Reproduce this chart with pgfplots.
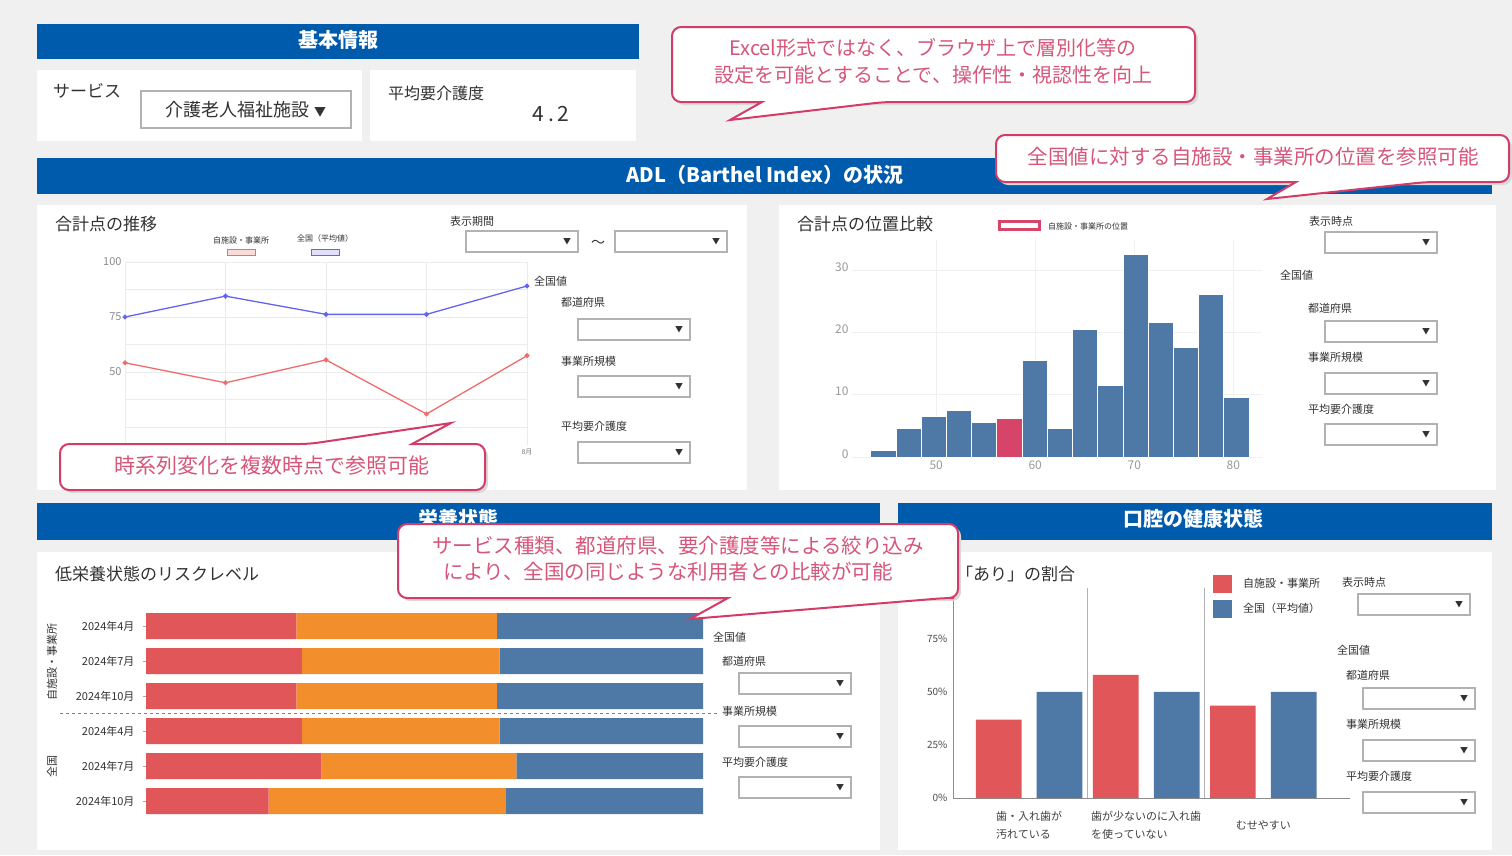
\documentclass[border=0pt]{standalone}
\usepackage{fontspec}
\setmainfont{Noto Sans CJK JP}
\usepackage{pgfplots}
\pgfplotsset{compat=1.18}
\pgfplotsset{/pgf/number format/assume math mode=true}
\definecolor{bgc}{RGB}{240,240,240}
\definecolor{hdr}{RGB}{0,91,172}
\definecolor{cb}{RGB}{212,60,104}
\definecolor{ct}{RGB}{214,86,122}
\definecolor{lineRed}{RGB}{240,108,108}
\definecolor{lineBlue}{RGB}{100,100,240}
\definecolor{tabRed}{RGB}{225,87,89}
\definecolor{tabOrange}{RGB}{242,142,43}
\definecolor{tabBlue}{RGB}{78,121,167}
\definecolor{histPink}{RGB}{214,68,106}
\definecolor{txt}{RGB}{50,50,50}
\newcommand{\fs}[1]{\fontsize{#1}{#1}\selectfont}
\newcommand{\dd}[2]{\draw[black!30, line width=1.2pt, fill=white] (#1,#2) rectangle ++(112,21);
  \node[font=\fs{8}, text=txt] at (#1+101,#2+10.5) {▼};}
\begin{document}
\begin{tikzpicture}
\begin{scope}[x=1pt,y=-1pt]
\fill[bgc] (0,0) rectangle (1512,855);
% panels
\fill[white] (37,70) rectangle (362,141);
\fill[white] (370,70) rectangle (636,141);
\fill[white] (37,205) rectangle (747,490);
\fill[white] (779,205) rectangle (1496,490);
\fill[white] (37,552) rectangle (880,850);
\fill[white] (898,552) rectangle (1492,850);
% headers
\fill[hdr] (37,24) rectangle (639,59);
\fill[hdr] (37,158) rectangle (1492,194);
\fill[hdr] (37,503) rectangle (880,540);
\fill[hdr] (898,503) rectangle (1492,540);
\node[text=white, font=\fs{20}\bfseries] at (338,40) {基本情報};
\node[text=white, font=\fs{20}\bfseries] at (765,175) {ADL（Barthel Index）の状況};
\node[text=white, font=\fs{20}\bfseries] at (458,519) {栄養状態};
\node[text=white, font=\fs{20}\bfseries] at (1193,519) {口腔の健康状態};
% basic info
\node[anchor=west, font=\fs{17}, text=txt, inner sep=0pt] at (53,91) {サービス};
\draw[black!30, line width=1.5pt, fill=white] (141,91) rectangle (351,128);
\node[font=\fs{18}, text=txt] at (246,110) {介護老人福祉施設 \fs{12}▼};
\node[anchor=west, font=\fs{16}, text=txt, inner sep=0pt] at (388,93) {平均要介護度};
\node[font=\fs{21}, text=txt] at (551,114) {4\hspace{4pt}.\hspace{4pt}2};
% titles
\node[anchor=west, font=\fs{17}, text=txt, inner sep=0pt] at (55,224) {合計点の推移};
\node[anchor=west, font=\fs{17}, text=txt, inner sep=0pt] at (797,224) {合計点の位置比較};
\node[anchor=west, font=\fs{17}, text=txt, inner sep=0pt] at (55,574) {低栄養状態のリスクレベル};
\node[anchor=west, font=\fs{17}, text=txt, inner sep=0pt] at (956,574) {「あり」の割合};
% line chart side
\node[font=\fs{8}, text=txt] at (241,240) {自施設・事業所};
\draw[lineRed, fill=lineRed!25, line width=1pt] (227,249) rectangle (255,255);
\node[font=\fs{8}, text=txt] at (325,238) {全国（平均値）};
\draw[lineBlue, fill=lineBlue!20, line width=1pt] (311,249) rectangle (339,255);
\node[anchor=west, font=\fs{11}, text=txt, inner sep=0pt] at (450,221) {表示期間};
\dd{466}{231}\dd{615}{231}
\node[font=\fs{14}, text=txt] at (598,244) {～};
\node[anchor=west, font=\fs{11}, text=txt, inner sep=0pt] at (534,281) {全国値};
\node[anchor=west, font=\fs{11}, text=txt, inner sep=0pt] at (561,302) {都道府県};
\dd{578}{319}
\node[anchor=west, font=\fs{11}, text=txt, inner sep=0pt] at (561,361) {事業所規模};
\dd{578}{376}
\node[anchor=west, font=\fs{11}, text=txt, inner sep=0pt] at (561,426) {平均要介護度};
\dd{578}{442}
% histogram side
\draw[histPink, fill=white, line width=3pt] (999,221) rectangle (1039,229);
\node[anchor=west, font=\fs{8}, text=txt, inner sep=0pt] at (1048,226) {自施設・事業所の位置};
\node[anchor=west, font=\fs{11}, text=txt, inner sep=0pt] at (1309,221) {表示時点};
\dd{1325}{232}
\node[anchor=west, font=\fs{11}, text=txt, inner sep=0pt] at (1280,275) {全国値};
\node[anchor=west, font=\fs{11}, text=txt, inner sep=0pt] at (1308,308) {都道府県};
\dd{1325}{321}
\node[anchor=west, font=\fs{11}, text=txt, inner sep=0pt] at (1308,357) {事業所規模};
\dd{1325}{373}
\node[anchor=west, font=\fs{11}, text=txt, inner sep=0pt] at (1308,409) {平均要介護度};
\dd{1325}{424}
% nutrition side
\node[rotate=90, font=\fs{11}, text=txt] at (52,662) {自施設・事業所};
\node[rotate=90, font=\fs{11}, text=txt] at (52,766) {全国};
\draw[black!50, dashed, line width=0.8pt] (60,713) -- (718,713);
\node[anchor=west, font=\fs{11}, text=txt, inner sep=0pt] at (713,637) {全国値};
\node[anchor=west, font=\fs{11}, text=txt, inner sep=0pt] at (722,661) {都道府県};
\dd{739}{673}
\node[anchor=west, font=\fs{11}, text=txt, inner sep=0pt] at (722,711) {事業所規模};
\dd{739}{726}
\node[anchor=west, font=\fs{11}, text=txt, inner sep=0pt] at (722,762) {平均要介護度};
\dd{739}{777}
% oral side
\fill[tabRed] (1213,575) rectangle (1232,593);
\fill[tabBlue] (1213,600) rectangle (1232,618);
\node[anchor=west, font=\fs{11}, text=txt, inner sep=0pt] at (1243,583) {自施設・事業所};
\node[anchor=west, font=\fs{11}, text=txt, inner sep=0pt] at (1243,608) {全国（平均値）};
\node[anchor=west, font=\fs{11}, text=txt, inner sep=0pt] at (1342,582) {表示時点};
\dd{1358}{594}
\node[anchor=west, font=\fs{11}, text=txt, inner sep=0pt] at (1337,650) {全国値};
\node[anchor=west, font=\fs{11}, text=txt, inner sep=0pt] at (1346,675) {都道府県};
\dd{1363}{688}
\node[anchor=west, font=\fs{11}, text=txt, inner sep=0pt] at (1346,724) {事業所規模};
\dd{1363}{740}
\node[anchor=west, font=\fs{11}, text=txt, inner sep=0pt] at (1346,776) {平均要介護度};
\dd{1363}{792}
\end{scope}

% ---------- line chart ----------
\begin{axis}[at={(125pt,-445pt)}, anchor=south west, scale only axis,
  width=402pt, height=183pt, xmin=0, xmax=4, ymin=16.8, ymax=100,
  axis line style={draw=none}, tick style={draw=none},
  xtick={0,1,2,3,4}, xticklabels={4月,5月,6月,7月,8月},
  xticklabel style={font=\fs{7}, text=black!50},
  ytick={25,37.5,50,62.5,75,87.5,100}, yticklabels={,,50,,75,,100},
  yticklabel style={font=\fs{11}, text=black!45},
  grid=major, grid style={black!8, line width=0.6pt}, clip=false]
\addplot[color=lineBlue, line width=1.3pt, mark=*, mark size=1.8pt] coordinates {(0,75) (1,84.5) (2,76.2) (3,76.2) (4,89.1)};
\addplot[color=lineRed, line width=1.3pt, mark=*, mark size=1.8pt] coordinates {(0,54.2) (1,45.1) (2,55.5) (3,30.9) (4,57.4)};
\end{axis}

% ---------- histogram ----------
\begin{axis}[at={(852pt,-457pt)}, anchor=south west, scale only axis,
  width=410pt, height=217pt, xmin=41.5, xmax=82.9, ymin=0, ymax=34.8,
  axis line style={draw=none}, tick style={draw=none},
  xtick={50,60,70,80}, ytick={0,10,20,30},
  ticklabel style={font=\fs{12}, text=black!40},
  yticklabel style={yshift=3pt},
  grid=major, grid style={black!6}]
\addplot[ybar interval, fill=tabBlue, draw=white, line width=1pt] coordinates {
 (43.40,1) (45.95,4.5) (48.49,6.5) (51.04,7.5) (53.59,5.5) (56.14,0) (58.68,15.5) (61.23,4.5)
 (63.78,20.5) (66.32,11.5) (68.87,32.5) (71.42,21.5) (73.96,17.5) (76.51,26) (79.06,9.5) (81.60,0)};
\addplot[ybar interval, fill=histPink, draw=white, line width=1pt] coordinates {(56.14,6.2) (58.68,0)};
\end{axis}

% ---------- stacked bars ----------
\begin{axis}[at={(146pt,-818.5pt)}, anchor=south west, scale only axis,
  width=557pt, height=210pt, xbar stacked, bar width=26pt,
  xmin=0, xmax=100, ymin=0.5, ymax=6.5,
  axis line style={draw=none}, xtick=\empty,
  ytick={1,2,3,4,5,6},
  yticklabels={2024年10月,2024年7月,2024年4月,2024年10月,2024年7月,2024年4月},
  yticklabel style={font=\fs{11}, text=txt, xshift=-5pt},
  tick style={black!35}, major tick length=3pt, tick align=outside, ytick pos=left]
\addplot[fill=tabRed, draw=none] coordinates {(27,6) (28,5) (27,4) (28,3) (31.5,2) (22,1)};
\addplot[fill=tabOrange, draw=none] coordinates {(36,6) (35.5,5) (36,4) (35.5,3) (35,2) (42.5,1)};
\addplot[fill=tabBlue, draw=none] coordinates {(37,6) (36.5,5) (37,4) (36.5,3) (33.5,2) (35.5,1)};
\end{axis}

% ---------- oral bars ----------
\begin{axis}[at={(953pt,-798pt)}, anchor=south west, scale only axis,
  width=397pt, height=210pt, xmin=-0.65, xmax=2.74, ymin=0, ymax=99,
  axis x line=bottom, axis y line=left, axis line style={black!45, line width=1pt, -},
  tick style={draw=none},
  ytick={0,25,50,75}, yticklabels={0\%,25\%,50\%,75\%},
  yticklabel style={font=\fs{10}, text=black!70},
  xtick={0,1,2},
  xticklabels={{歯・入れ歯が\\汚れている},{歯が少ないのに入れ歯\\を使っていない},{むせやすい}},
  xticklabel style={font=\fontsize{11}{18}\selectfont, align=left, anchor=center, yshift=-23pt, text=black!75},
  ybar, bar width=0.39, bar shift=0pt, clip=false]
\draw[black!30, line width=0.8pt] (axis cs:0.5,0) -- (axis cs:0.5,99);
\draw[black!30, line width=0.8pt] (axis cs:1.5,0) -- (axis cs:1.5,99);
\addplot[fill=tabRed, draw=none] coordinates {(-0.26,37) (0.74,58) (1.74,43.5)};
\addplot[fill=tabBlue, draw=none] coordinates {(0.26,50) (1.26,50) (2.26,50)};
\end{axis}

% ---------- callouts ----------
\begin{scope}[x=1pt,y=-1pt]
\tikzset{co/.style={draw=cb, line width=2pt, fill=white, rounded corners=9pt},
  sh/.style={fill=black!15, rounded corners=9pt}}
% callout 1
\fill[sh] (675,30) rectangle (1198,105);
\path[co] (762,102) -- (672,102) -- (672,27) -- (1195,27) -- (1195,102) -- (884,102) [sharp corners] -- (730,120) -- cycle;
\node[text=ct, font=\fs{20}] at (933,48) {Excel形式ではなく、ブラウザ上で層別化等の};
\node[text=ct, font=\fs{20}] at (933,75) {設定を可能とすることで、操作性・視認性を向上};
% callout 2
\fill[sh] (999,138) rectangle (1512,185);
\path[co] (1296,182) -- (996,182) -- (996,135) -- (1509,135) -- (1509,182) -- (1426,182) [sharp corners] -- (1267,199) -- cycle;
\node[text=ct, font=\fs{20.5}] at (1253,157) {全国値に対する自施設・事業所の位置を参照可能};
% callout 3
\fill[sh] (63,447) rectangle (488,493);
\path[co] (412,444) -- (485,444) -- (485,490) -- (60,490) -- (60,444) -- (309,444) [sharp corners] -- (451,423) -- cycle;
\node[text=ct, font=\fs{21}] at (272,466) {時系列変化を複数時点で参照可能};
% callout 4
\fill[sh] (401,527) rectangle (961,601);
\path[co] (728,598) -- (398,598) -- (398,524) -- (958,524) -- (958,598) -- (945,598) [sharp corners] -- (690,619) -- cycle;
\node[text=ct, font=\fs{20.5}] at (678,546) {サービス種類、都道府県、要介護度等による絞り込み};
\node[text=ct, font=\fs{20.5}] at (668,572) {により、全国の同じような利用者との比較が可能};
\end{scope}
\pgfresetboundingbox
\path[use as bounding box] (0pt,0pt) rectangle (1512pt,-855pt);
\end{tikzpicture}
\end{document}
